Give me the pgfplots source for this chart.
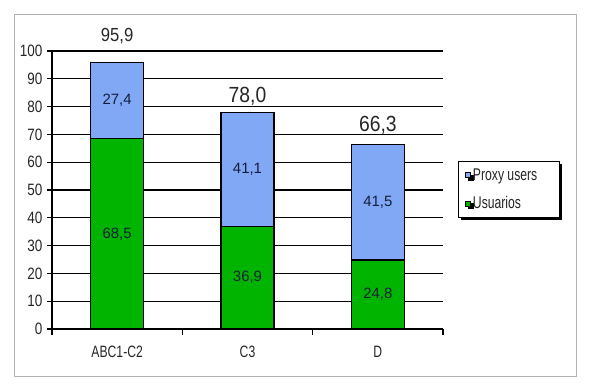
\documentclass[border=0pt]{standalone}
\usepackage{pgfplots}
\pgfplotsset{compat=1.18}
\usepackage{fontspec}
\setmainfont{Liberation Sans}
\newfontfamily\ytfont{Liberation Sans}[FakeStretch=0.82]
\newfontfamily\xtfont{Liberation Sans}[FakeStretch=0.74]
\newfontfamily\lgfont{Liberation Sans}[FakeStretch=0.72]
\newfontfamily\ttlfont{Liberation Sans}[FakeStretch=0.88]
\usetikzlibrary{shadows}
\definecolor{barblue}{RGB}{128,168,245}
\definecolor{bargreen}{RGB}{0,180,0}
\definecolor{lbl}{RGB}{20,30,60}
\begin{document}
\begin{tikzpicture}
\useasboundingbox (0bp,0bp) rectangle (598bp,389bp);
\draw[gray!60, line width=0.8bp] (14bp,13bp) rectangle (576bp,375bp);
\begin{axis}[
  at={(52bp,60bp)}, anchor=south west,
  scale only axis, width=391bp, height=278bp,
  ybar stacked, bar width=53bp,
  xmin=-0.5, xmax=2.5, ymin=0, ymax=100,
  xtick={0,1,2}, xticklabels={ABC1-C2,C3,D},
  major x tick style={draw=none},
  minor xtick={-0.5,0.5,1.5,2.5},
  ytick={0,10,...,100},
  tick align=outside, major tick length=5bp, minor tick length=6bp,
  axis x line*=bottom, axis y line*=left,
  ymajorgrids, grid style={black, line width=1.2bp},
  axis line style={black, line width=1.2bp},
  every tick/.style={black, line width=1.2bp},
  yticklabel style={font=\ytfont\fontsize{16.5}{18}\selectfont, text=black!85, xshift=-1bp},
  xticklabel style={font=\xtfont\fontsize{16.5}{18}\selectfont, text=black!85, yshift=-9bp},
  /pgf/number format/assume math mode=true,
  reverse legend,
  legend cell align=left,
  legend image code/.code={\draw[#1, line width=0.6bp] (0bp,-2.5bp) rectangle (5bp,2.5bp);},
  legend style={at={(1.038,0.604)}, anchor=north west, draw=black, line width=1bp,
    fill=white, font=\lgfont\fontsize{17}{19}\selectfont, text=black!85,
    inner xsep=7bp, inner ysep=5bp, row sep=11bp,
    drop shadow={shadow xshift=2.5bp, shadow yshift=-2.5bp, fill=black, opacity=1}},
  clip=false,
]
\addplot[fill=bargreen, draw=black, line width=1.2bp] coordinates {(0,68.5) (1,36.9) (2,24.8)};
\addlegendentry{\makebox[78bp][l]{Usuarios}}
\addplot[fill=barblue, draw=black, line width=1.2bp] coordinates {(0,27.4) (1,41.1) (2,41.5)};
\addlegendentry{\makebox[78bp][l]{Proxy users}}
\end{axis}
\begin{axis}[
  at={(52bp,60bp)}, anchor=south west,
  scale only axis, width=391bp, height=278bp,
  xmin=-0.5, xmax=2.5, ymin=0, ymax=100,
  hide axis, clip=false,
]
\addplot[only marks, mark=none, nodes near coords, point meta=explicit symbolic,
  nodes near coords style={anchor=center, text=lbl, font=\fontsize{15}{17}\selectfont}]
  coordinates {(0,34.25)[68{,}5] (0,82.2)[27{,}4] (1,18.45)[36{,}9] (1,57.45)[41{,}1] (2,12.4)[24{,}8] (2,45.55)[41{,}5]};
\addplot[only marks, mark=none, nodes near coords, point meta=explicit symbolic,
  nodes near coords style={anchor=center, text=black!85, font=\ttlfont\fontsize{19}{21}\selectfont}]
  coordinates {(0,105.4)[95{,}9]};
\addplot[only marks, mark=none, nodes near coords, point meta=explicit symbolic,
  nodes near coords style={anchor=center, text=black!85, font=\ttlfont\fontsize{22}{24}\selectfont}]
  coordinates {(1,83.8)[78{,}0] (2,73.4)[66{,}3]};
\end{axis}
\end{tikzpicture}
\end{document}
